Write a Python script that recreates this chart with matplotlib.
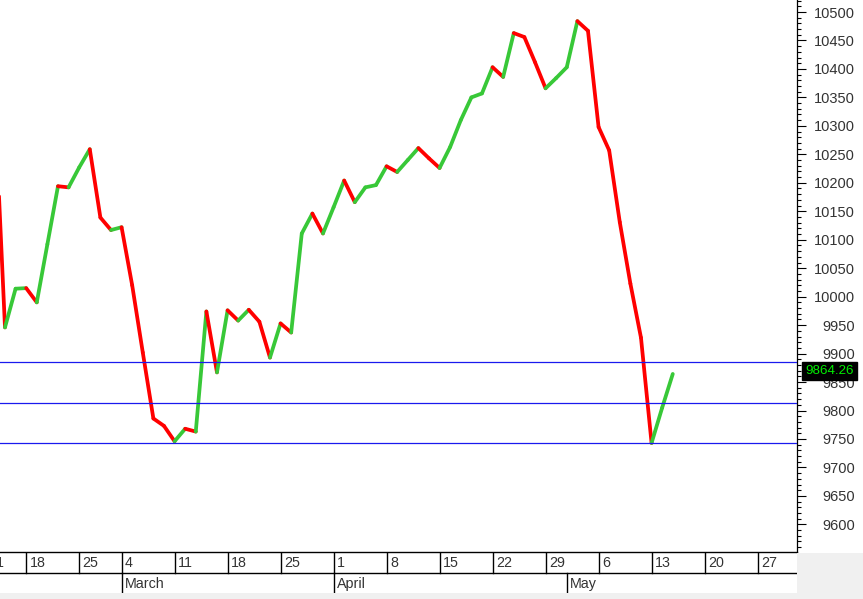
import matplotlib
matplotlib.use("Agg")
import matplotlib.pyplot as plt
import numpy as np
from matplotlib.collections import LineCollection
from matplotlib.patches import Rectangle
from matplotlib.ticker import MultipleLocator
import matplotlib.transforms as mtransforms

plt.rcParams['font.family'] = ['Liberation Sans', 'DejaVu Sans']

# daily closes, one per trading day (Feb 13 -> May 15)
closes = [
    10354, 9946, 10014, 10015, 9990, 10092, 10194, 10192, 10227, 10259,
    10139, 10117, 10122, 10020, 9902, 9786, 9773, 9746, 9768, 9763,
    9974, 9867, 9976, 9958, 9977, 9956, 9893, 9953, 9937, 10111,
    10146, 10111, 10157, 10204, 10166, 10192, 10196, 10229, 10219, 10240,
    10261, 10243, 10226, 10263, 10310, 10350, 10357, 10403, 10386, 10463,
    10456, 10412, 10366, 10384, 10403, 10484, 10467, 10298, 10257, 10131,
    10023, 9928, 9743, 9805, 9864.26,
]
last_price = 9864.26

# horizontal support levels
levels = [9886, 9813, 9742.5]

# week separators (trading-day index of first day of each week) and labels
week_idx = [-0.75, 3, 8, 12, 17, 22, 27, 32, 37, 42, 47, 52, 57, 62, 67, 72]
week_labels = ['11', '18', '25', '4', '11', '18', '25', '1', '8', '15',
               '22', '29', '6', '13', '20', '27']
month_idx = [12, 32, 54]
month_labels = ['March', 'April', 'May']

W, H = 863, 599
fig = plt.figure(figsize=(W / 100, H / 100), dpi=100)
fig.patch.set_facecolor('white')

plot_right = 797
plot_bottom = 552
ax = fig.add_axes([0, (H - plot_bottom) / H, plot_right / W, plot_bottom / H])

x = np.arange(len(closes))
y = np.array(closes, dtype=float)
pts = np.column_stack([x, y])
segs = np.stack([pts[:-1], pts[1:]], axis=1)
cols = ['#38c838' if b >= a else '#ff0000' for a, b in zip(y[:-1], y[1:])]
lc = LineCollection(segs, colors=cols, linewidths=2.7, capstyle='round',
                    joinstyle='round', zorder=3)
ax.add_collection(lc)

for lv in levels:
    ax.axhline(lv, color='#1a1aee', lw=0.9, zorder=4)

ax.set_xlim(0.53, 75.72)
ax.set_ylim(9551.5, 10521.1)

for s in ['top', 'left', 'bottom']:
    ax.spines[s].set_visible(False)
ax.spines['right'].set_color('black')
ax.spines['right'].set_linewidth(0.9)
ax.set_xticks([])
ax.yaxis.tick_right()
ax.yaxis.set_major_locator(MultipleLocator(50))
ax.yaxis.set_minor_locator(MultipleLocator(10))
ax.tick_params(axis='y', which='major', length=6.5, width=0.8, pad=35,
               labelsize=10.5, colors='black', labelcolor='#333333')
ax.tick_params(axis='y', which='minor', length=2.9, width=0.8)
for lab in ax.get_yticklabels():
    lab.set_ha('right')

trans = mtransforms.blended_transform_factory(ax.transAxes, ax.transData)
trans = trans + mtransforms.ScaledTranslation(0, 3 / 100, fig.dpi_scale_trans)
ax.text(1.0 + 8 / plot_right, last_price, f'{last_price:.2f}', transform=trans,
        color='#00ee00', fontsize=9.6, va='center', ha='left', clip_on=False,
        zorder=10,
        bbox=dict(facecolor='black', edgecolor='black', boxstyle='square,pad=0.25'))

# date band
ax2 = fig.add_axes([0, (H - 593) / H, plot_right / W, 41 / H])
ax2.set_xlim(ax.get_xlim())
ax2.set_ylim(2, 0)
ax2.axis('off')
ax2.axhline(0, color='black', lw=1.0, clip_on=False)
ax2.axhline(1, color='black', lw=1.0)
for i, lab in zip(week_idx, week_labels):
    ax2.plot([i, i], [0, 1], color='black', lw=1.0)
    ax2.text(i + 0.33, 0.55, lab, fontsize=10.3, va='center', ha='left',
             color='#333333')
for i, lab in zip(month_idx, month_labels):
    ax2.plot([i, i], [1, 2], color='black', lw=1.0)
    ax2.text(i + 0.33, 1.55, lab, fontsize=10.3, va='center', ha='left',
             color='#333333')

# grey window chrome
fig.patches.append(Rectangle((plot_right / W, 0), (W - plot_right) / W, (H - 553) / H,
                             transform=fig.transFigure, facecolor='#f0f0f0',
                             edgecolor='none', zorder=0))
fig.patches.append(Rectangle((0, 0), 1, 6 / H, transform=fig.transFigure,
                             facecolor='#f0f0f0', edgecolor='none', zorder=0))

fig.savefig('out.png', dpi=100)
